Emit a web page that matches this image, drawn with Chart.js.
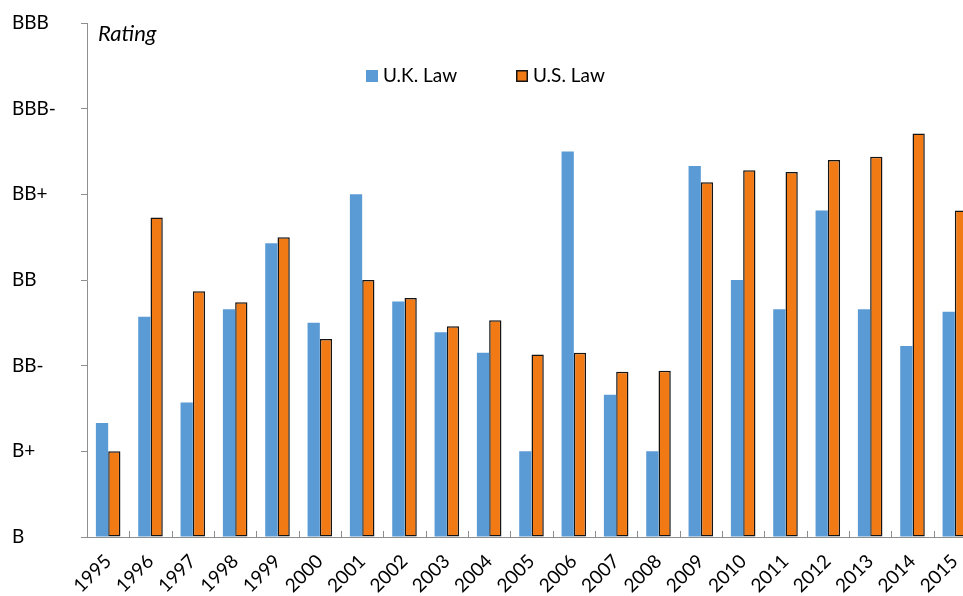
<!DOCTYPE html>
<html>
<head>
<meta charset="utf-8">
<script src="https://cdn.jsdelivr.net/npm/chart.js@4/dist/chart.umd.min.js"></script>
<style>
  html, body { margin: 0; padding: 0; background: #fff; overflow: hidden; }
  #wrap { width: 976px; height: 596px; position: relative; }
</style>
</head>
<body>
<div id="wrap"><canvas id="c"></canvas></div>
<script>
// ── Data ───────────────────────────────────────────────────────────
const YEARS   = ['1995','1996','1997','1998','1999','2000','2001','2002','2003','2004','2005',
                 '2006','2007','2008','2009','2010','2011','2012','2013','2014','2015'];
const UK_LAW  = [1.33, 2.57, 1.57, 2.66, 3.43, 2.50, 4.00, 2.75, 2.39, 2.15, 1.00,
                 4.50, 1.66, 1.00, 4.33, 3.00, 2.66, 3.81, 2.66, 2.23, 2.63];
const US_LAW  = [1.00, 3.73, 2.87, 2.74, 3.50, 2.31, 3.00, 2.79, 2.46, 2.53, 2.13,
                 2.15, 1.93, 1.94, 4.14, 4.28, 4.26, 4.40, 4.44, 4.71, 3.81];
const RATINGS = ['B', 'B+', 'BB-', 'BB', 'BB+', 'BBB-', 'BBB'];

const AXIS_GREY = '#8e8e8e';
const FONT = 'Lato, "Open Sans", sans-serif';

// ── Overlay: inward category ticks, "Rating" title, legend ────────
const overlay = {
  id: 'overlay',
  afterDraw(chart) {
    const { ctx, chartArea: a, scales: { x } } = chart;
    ctx.save();

    // short tick marks between categories, pointing up into the plot
    ctx.strokeStyle = AXIS_GREY;
    ctx.lineWidth = 1;
    for (let i = 1; i < YEARS.length; i++) {
      const px = Math.round((x.getPixelForValue(i - 1) + x.getPixelForValue(i)) / 2) + 0.5;
      ctx.beginPath();
      ctx.moveTo(px, a.bottom - 6);
      ctx.lineTo(px, a.bottom);
      ctx.stroke();
    }

    // axis title inside the plot
    ctx.fillStyle = '#000';
    ctx.font = 'italic 22px ' + FONT;
    ctx.textBaseline = 'alphabetic';
    ctx.fillText('Rating', a.left + 11, 41);

    // legend
    ctx.font = '19px ' + FONT;
    ctx.textBaseline = 'middle';
    let lx = 366;
    chart.data.datasets.forEach(ds => {
      ctx.fillStyle = ds.backgroundColor;
      ctx.fillRect(lx, 70, 12, 12);
      if (ds.borderWidth) {
        ctx.strokeStyle = ds.borderColor;
        ctx.lineWidth = 1.5;
        ctx.strokeRect(lx + 0.75, 70.75, 10.5, 10.5);
      }
      ctx.fillStyle = '#000';
      ctx.fillText(ds.label, lx + 17, 76);
      lx += 150;
    });
    ctx.restore();
  }
};

new Chart(document.getElementById('c'), {
  type: 'bar',
  data: {
    labels: YEARS,
    datasets: [
      { label: 'U.K. Law', data: UK_LAW, backgroundColor: '#5b9bd5', borderWidth: 0 },
      { label: 'U.S. Law', data: US_LAW, backgroundColor: '#f27a14', borderColor: '#141414',
        borderWidth: 1.5, borderSkipped: false },
    ],
  },
  options: {
    responsive: true,
    maintainAspectRatio: false,
    animation: false,
    layout: { padding: { left: 12, top: 23, right: 0, bottom: 0 } },
    datasets: { bar: { categoryPercentage: 0.58, barPercentage: 1.0 } },
    plugins: { legend: { display: false }, tooltip: { enabled: false } },
    scales: {
      x: {
        grid: { display: false, drawTicks: false },
        border: { display: true, color: AXIS_GREY, width: 1 },
        ticks: {
          color: '#000', font: { family: FONT, size: 19 },
          minRotation: 45, maxRotation: 45, autoSkip: false, padding: 13,
        },
        afterFit: s => { s.height = 59; s.paddingLeft = 0; s.paddingRight = 0; },
      },
      y: {
        min: 0, max: 6,
        grid: { drawOnChartArea: false, tickLength: 6, color: AXIS_GREY },
        border: { display: true, color: AXIS_GREY, width: 1 },
        ticks: {
          stepSize: 1, color: '#000', font: { family: FONT, size: 19 },
          crossAlign: 'far', padding: 6,
          callback: v => RATINGS[v] ?? '',
        },
        afterFit: s => { s.width = 75; },
      },
    },
  },
  plugins: [overlay],
});
</script>
</body>
</html>
